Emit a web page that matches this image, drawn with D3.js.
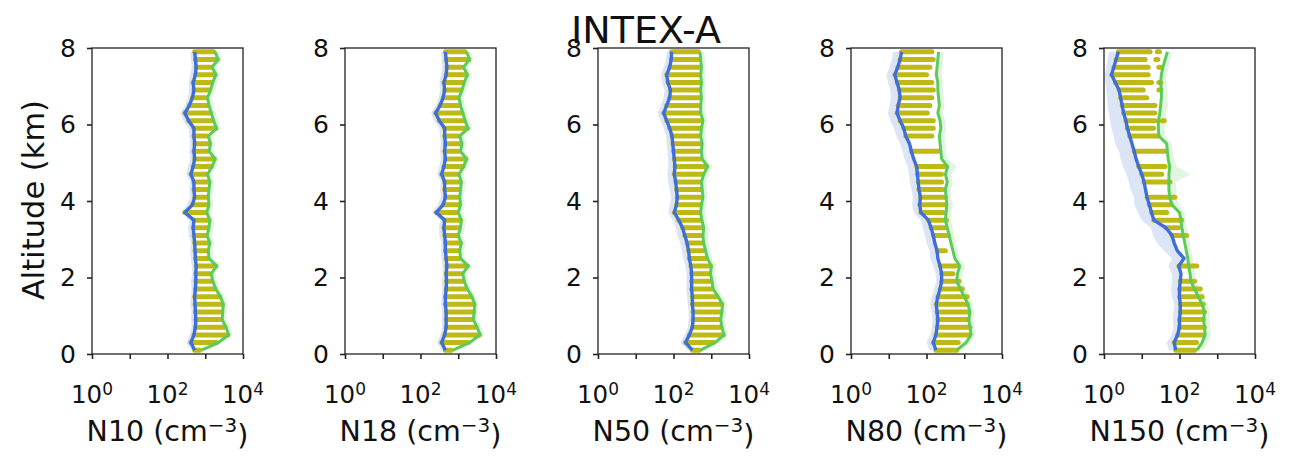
<!DOCTYPE html>
<html><head><meta charset="utf-8">
<script src="https://cdn.jsdelivr.net/npm/d3@7"></script>
<style>
body{margin:0;background:#fff}
svg{display:block}
text{font-family:"DejaVu Sans",sans-serif;fill:#111}
</style>
</head><body>
<svg id="chart" width="1291" height="456"></svg>
<script>
// ---------------- DATA (concentrations stored as log10(cm^-3)) ----------------
const altitudesKm = [0.1,0.3,0.5,0.7,0.9,1.1,1.3,1.5,1.7,1.9,2.1,2.3,2.5,2.7,2.9,3.1,3.3,3.5,3.7,3.9,
  4.1,4.3,4.5,4.7,4.9,5.1,5.3,5.5,5.7,5.9,6.1,6.3,6.5,6.7,6.9,7.1,7.3,7.5,7.7,7.9];
const panelNames = ["N10","N18","N50","N80","N150"];
const xTickValues = [1,10,100,1000,10000];
const xTickLabelExponents = [0,2,4];
const yTickValues = [0,2,4,6,8];
const chartTitle = "INTEX-A";

// N10
const n10Blue = [2.72,2.62,2.70,2.74,2.75,2.74,2.73,2.72,2.74,2.75,2.75,2.76,2.74,2.73,2.72,2.70,2.68,2.70,2.46,2.66,
  2.72,2.70,2.70,2.62,2.68,2.72,2.70,2.72,2.70,2.70,2.56,2.46,2.58,2.66,2.70,2.68,2.74,2.76,2.74,2.72];
const n10Green = [2.90,3.35,3.62,3.55,3.45,3.46,3.48,3.40,3.28,3.20,3.16,3.30,3.10,3.08,3.12,3.05,3.10,3.12,3.04,3.10,
  3.08,3.10,3.12,3.06,3.18,3.26,3.10,3.14,3.08,3.30,3.22,3.16,3.10,3.06,3.14,3.20,3.28,3.18,3.34,3.26];
const n10BarEnd = [2.85,3.30,3.60,3.52,3.42,3.44,3.45,3.38,3.25,3.18,3.12,3.28,3.06,3.04,3.10,3.02,3.06,3.10,3.00,3.06,
  3.04,3.06,3.10,3.02,3.16,3.24,3.06,3.10,3.04,3.28,3.20,3.14,3.06,3.02,3.10,3.16,3.26,3.14,3.32,3.22];
const n10BlueLow = [2.62,2.50,2.58,2.64,2.62,2.64,2.60,2.62,2.64,2.62,2.66,2.64,2.62,2.60,2.62,2.56,2.55,2.58,2.36,2.52,
  2.60,2.58,2.60,2.50,2.54,2.60,2.58,2.60,2.58,2.56,2.42,2.34,2.46,2.54,2.58,2.56,2.60,2.64,2.62,2.60];
const n10GreenHigh = [3.00,3.45,3.72,3.66,3.56,3.55,3.58,3.50,3.38,3.32,3.26,3.40,3.22,3.20,3.24,3.18,3.22,3.24,3.16,3.22,
  3.18,3.22,3.24,3.16,3.30,3.36,3.22,3.26,3.20,3.42,3.34,3.28,3.22,3.18,3.26,3.32,3.40,3.30,3.44,3.38];

// N18
const n18Blue = [2.66,2.56,2.64,2.68,2.68,2.68,2.66,2.66,2.68,2.69,2.68,2.70,2.68,2.66,2.66,2.64,2.62,2.64,2.42,2.60,
  2.66,2.64,2.64,2.56,2.62,2.66,2.64,2.66,2.64,2.64,2.50,2.40,2.52,2.60,2.64,2.62,2.68,2.70,2.68,2.66];
const n18Green = [2.86,3.30,3.58,3.50,3.40,3.42,3.44,3.36,3.24,3.16,3.12,3.26,3.06,3.04,3.08,3.00,3.06,3.08,3.00,3.06,
  3.04,3.06,3.08,3.02,3.14,3.22,3.06,3.10,3.04,3.26,3.18,3.12,3.06,3.02,3.10,3.16,3.24,3.14,3.30,3.22];
const n18BarEnd = [2.82,3.26,3.56,3.47,3.37,3.40,3.41,3.33,3.21,3.13,3.08,3.24,3.02,3.00,3.06,2.97,3.02,3.06,2.96,3.02,
  3.00,3.02,3.06,2.98,3.12,3.20,3.02,3.06,3.00,3.24,3.16,3.10,3.02,2.98,3.06,3.12,3.22,3.10,3.28,3.18];
const n18BlueLow = [2.56,2.44,2.52,2.58,2.56,2.58,2.54,2.56,2.58,2.56,2.60,2.58,2.56,2.54,2.56,2.50,2.49,2.52,2.30,2.46,
  2.54,2.52,2.54,2.44,2.50,2.54,2.52,2.54,2.52,2.50,2.36,2.28,2.40,2.48,2.52,2.50,2.54,2.58,2.56,2.54];
const n18GreenHigh = [2.96,3.40,3.68,3.61,3.51,3.51,3.54,3.46,3.34,3.28,3.22,3.36,3.18,3.16,3.20,3.13,3.18,3.20,3.12,3.18,
  3.14,3.18,3.20,3.12,3.26,3.32,3.18,3.22,3.16,3.38,3.30,3.24,3.18,3.14,3.22,3.28,3.36,3.26,3.40,3.34];

// N50
const n50Blue = [2.50,2.32,2.42,2.50,2.52,2.52,2.50,2.50,2.48,2.48,2.48,2.46,2.42,2.40,2.36,2.30,2.24,2.14,2.02,2.08,
  2.10,2.08,2.06,2.02,2.04,2.02,2.00,1.98,1.96,1.90,1.82,1.74,1.82,1.90,1.92,1.85,1.82,1.90,1.94,1.95];
const n50Green = [2.72,3.10,3.34,3.28,3.25,3.28,3.30,3.18,3.05,3.02,2.98,3.00,2.90,2.85,2.80,2.78,2.80,2.75,2.72,2.74,
  2.78,2.76,2.74,2.80,2.90,2.76,2.74,2.76,2.72,2.74,2.78,2.72,2.72,2.74,2.72,2.74,2.72,2.74,2.72,2.70];
const n50BarEnd = [2.68,3.06,3.32,3.26,3.22,3.26,3.28,3.15,3.02,2.98,2.95,2.98,2.86,2.80,2.76,2.74,2.76,2.72,2.68,2.70,
  2.74,2.72,2.70,2.76,2.88,2.72,2.70,2.72,2.68,2.70,2.74,2.68,2.68,2.70,2.68,2.70,2.68,2.70,2.68,2.66];
const n50BlueLow = [2.38,2.18,2.30,2.38,2.40,2.40,2.38,2.36,2.34,2.35,2.34,2.32,2.26,2.22,2.18,2.10,2.06,1.98,1.86,1.90,
  1.94,1.90,1.86,1.84,1.86,1.86,1.84,1.82,1.80,1.74,1.66,1.58,1.66,1.74,1.76,1.70,1.66,1.74,1.80,1.82];
const n50GreenHigh = [2.84,3.22,3.46,3.40,3.36,3.40,3.42,3.30,3.18,3.14,3.10,3.14,3.02,2.98,2.92,2.92,2.94,2.88,2.84,2.86,
  2.90,2.88,2.86,2.94,3.02,2.88,2.86,2.88,2.84,2.86,2.90,2.84,2.84,2.86,2.84,2.86,2.84,2.86,2.84,2.82];

// N80
const n80Blue = [2.25,2.18,2.25,2.28,2.30,2.28,2.26,2.30,2.36,2.40,2.40,2.36,2.30,2.28,2.22,2.18,2.12,2.05,1.85,1.82,
  1.84,1.80,1.78,1.76,1.74,1.66,1.60,1.55,1.45,1.40,1.30,1.22,1.25,1.30,1.28,1.22,1.16,1.24,1.30,1.34];
const n80Green = [2.80,3.05,3.18,3.15,3.12,3.15,3.10,3.00,2.90,2.80,2.82,2.88,2.75,2.70,2.65,2.60,2.55,2.50,2.52,2.54,
  2.52,2.50,2.55,2.50,2.56,2.40,2.38,2.36,2.34,2.38,2.36,2.30,2.34,2.32,2.30,2.30,2.26,2.28,2.30,2.32];
const n80BarEnd = [2.80,2.84,3.12,3.15,3.10,3.12,3.08,3.08,2.95,2.86,2.70,2.78,null,2.50,null,2.58,2.49,2.53,2.44,2.48,
  2.50,2.45,2.40,2.40,2.53,null,2.31,null,2.14,2.18,2.18,2.02,2.09,2.14,2.18,2.14,2.00,2.09,2.18,2.14];
const n80BlueLow = [2.08,2.00,2.10,2.14,2.16,2.14,2.10,2.14,2.20,2.26,2.24,2.18,2.10,2.08,2.00,1.96,1.90,1.84,1.66,1.62,
  1.64,1.60,1.56,1.54,1.50,1.42,1.36,1.30,1.20,1.14,1.04,0.98,1.02,1.06,1.04,0.98,0.94,1.02,1.08,1.12];
const n80GreenHigh = [2.92,3.18,3.30,3.28,3.24,3.27,3.22,3.12,3.04,2.94,2.96,3.02,2.88,2.84,2.78,2.74,2.70,2.64,2.66,2.70,
  2.66,2.64,2.70,2.66,2.80,2.56,2.52,2.50,2.48,2.52,2.50,2.44,2.48,2.46,2.44,2.44,2.40,2.42,2.44,2.46];

// N150
const n150Blue = [1.90,1.86,1.95,2.00,2.00,2.02,2.02,2.00,2.00,2.02,2.04,1.98,2.12,1.94,1.86,1.80,1.64,1.32,1.26,1.20,
  1.14,1.10,1.06,1.00,0.92,0.85,0.80,0.74,0.68,0.62,0.58,0.52,0.48,0.44,0.40,0.30,0.20,0.26,0.32,0.38];
const n150Green = [2.46,2.60,2.68,2.66,2.64,2.66,2.60,2.50,2.40,2.30,2.28,2.24,2.22,2.18,2.14,2.10,2.06,2.04,2.00,1.80,
  1.74,1.72,1.72,1.72,1.74,1.70,1.68,1.66,1.45,1.44,1.44,1.48,1.50,1.52,1.52,1.50,1.52,1.56,1.62,1.68];
const n150BarEnd = [2.40,2.45,2.60,2.66,2.63,2.66,2.63,2.60,2.55,2.40,null,2.46,null,null,null,2.19,1.97,2.06,1.66,1.79,
  1.88,null,1.75,1.53,1.62,null,1.62,null,1.44,1.31,1.35,1.35,1.35,1.13,1.04,1.26,1.17,1.17,1.09,1.22];
const n150BlueLow = [1.72,1.66,1.80,1.84,1.82,1.84,1.86,1.80,1.78,1.80,1.80,1.70,1.80,1.60,1.40,1.30,1.24,1.00,0.90,0.80,
  0.80,0.70,0.66,0.60,0.50,0.44,0.40,0.30,0.26,0.20,0.16,0.12,0.10,0.08,0.06,0.04,0.02,0.06,0.10,0.14];
const n150GreenHigh = [2.60,2.76,2.84,2.82,2.80,2.80,2.74,2.66,2.56,2.44,2.42,2.38,2.36,2.30,2.28,2.24,2.20,2.16,2.14,2.00,
  1.90,1.92,1.90,2.30,1.92,1.86,1.82,1.80,1.62,1.60,1.66,1.64,1.70,1.66,1.68,1.64,1.66,1.72,1.76,1.80];
// isolated short marks beyond the bar ends (N150 upper levels)
const n150BarTail = [null,null,null,null,null,null,null,null,null,null,null,null,null,null,null,null,null,null,null,null,
  null,null,null,null,null,null,null,null,null,null,1.57,null,null,null,1.48,1.48,null,1.48,1.40,1.44];

const panels = [
  {name:panelNames[0], blue:n10Blue, green:n10Green, barEnd:n10BarEnd, blueLow:n10BlueLow, greenHigh:n10GreenHigh, tail:null},
  {name:panelNames[1], blue:n18Blue, green:n18Green, barEnd:n18BarEnd, blueLow:n18BlueLow, greenHigh:n18GreenHigh, tail:null},
  {name:panelNames[2], blue:n50Blue, green:n50Green, barEnd:n50BarEnd, blueLow:n50BlueLow, greenHigh:n50GreenHigh, tail:null},
  {name:panelNames[3], blue:n80Blue, green:n80Green, barEnd:n80BarEnd, blueLow:n80BlueLow, greenHigh:n80GreenHigh, tail:null},
  {name:panelNames[4], blue:n150Blue, green:n150Green, barEnd:n150BarEnd, blueLow:n150BlueLow, greenHigh:n150GreenHigh, tail:n150BarTail}
];

// ---------------- LAYOUT ----------------
const firstLeft = 92, panelStep = 253, panelW = 151, plotTop = 48, plotBottom = 354;
const COL_BLUE = "#3f6fd6", COL_GREEN = "#5ccb58", COL_BAR = "#bfb915";
const svg = d3.select("#chart");
const y = d3.scaleLinear().domain([0, 8]).range([plotBottom, plotTop]);

panels.forEach((p, i) => {
  const left = firstLeft + i * panelStep;
  const x = d3.scaleLog().domain([1, 1e4]).range([left, left + panelW]);
  const X = v => x(Math.pow(10, v));
  const g = svg.append("g");
  const clipId = "clip" + i;
  g.append("clipPath").attr("id", clipId).append("rect")
    .attr("x", left).attr("y", plotTop).attr("width", panelW).attr("height", plotBottom - plotTop);
  const plot = g.append("g").attr("clip-path", `url(#${clipId})`);

  const rows = altitudesKm.map((a, j) => ({a, b: p.blue[j], gr: p.green[j], e: p.barEnd[j], lo: p.blueLow[j], hi: p.greenHigh[j],
    t: p.tail ? p.tail[j] : null}));

  plot.append("path").datum(rows)
    .attr("d", d3.area().y(d => y(d.a)).x0(d => X(d.lo)).x1(d => X(d.b)))
    .attr("fill", "rgba(95,135,215,0.22)");
  plot.append("path").datum(rows)
    .attr("d", d3.area().y(d => y(d.a)).x0(d => X(d.gr)).x1(d => X(d.hi)))
    .attr("fill", "rgba(110,205,110,0.20)");

  plot.selectAll("line.bar").data(rows.filter(d => d.e !== null)).join("line")
    .attr("class", "bar")
    .attr("x1", d => X(d.b)).attr("x2", d => X(d.e))
    .attr("y1", d => y(d.a)).attr("y2", d => y(d.a))
    .attr("stroke", COL_BAR).attr("stroke-width", 5).attr("stroke-linecap", "round");

  plot.selectAll("line.tail").data(rows.filter(d => d.t !== null)).join("line")
    .attr("class", "tail")
    .attr("x1", d => X(d.t) - 1).attr("x2", d => X(d.t) + 1)
    .attr("y1", d => y(d.a)).attr("y2", d => y(d.a))
    .attr("stroke", COL_BAR).attr("stroke-width", 5).attr("stroke-linecap", "round");

  plot.append("path").datum(rows)
    .attr("d", d3.line().y(d => y(d.a)).x(d => X(d.b)))
    .attr("fill", "none").attr("stroke", COL_BLUE).attr("stroke-width", 3.4).attr("stroke-linejoin", "round");
  plot.append("path").datum(rows)
    .attr("d", d3.line().y(d => y(d.a)).x(d => X(d.gr)))
    .attr("fill", "none").attr("stroke", COL_GREEN).attr("stroke-width", 3).attr("stroke-linejoin", "round");

  // frame
  g.append("rect").attr("x", left).attr("y", plotTop).attr("width", panelW).attr("height", plotBottom - plotTop)
    .attr("fill", "none").attr("stroke", "#222").attr("stroke-width", 1.3);

  // x axis
  const xa = g.append("g").attr("transform", `translate(0,${plotBottom})`)
    .call(d3.axisBottom(x).tickValues(xTickValues).tickSize(5).tickFormat(() => ""));
  xa.select(".domain").remove();
  xa.selectAll(".tick line").attr("stroke", "#222").attr("stroke-width", 1.6);
  xTickLabelExponents.forEach(ex => {
    const t = g.append("text").attr("x", x(Math.pow(10, ex))).attr("y", 403)
      .attr("text-anchor", "middle").style("font-size", "24.5px");
    t.append("tspan").text("10");
    t.append("tspan").attr("dy", "-0.45em").style("font-size", "17px").text(ex);
  });

  // y axis
  const ya = g.append("g").attr("transform", `translate(${left},0)`)
    .call(d3.axisLeft(y).tickValues(yTickValues).tickSize(5).tickPadding(11).tickFormat(d3.format("d")));
  ya.select(".domain").remove();
  ya.selectAll(".tick line").attr("stroke", "#222").attr("stroke-width", 1.6);
  ya.selectAll(".tick text").style("font-size", "25px").attr("fill", "#111").attr("font-family", "DejaVu Sans");

  // x label
  const xl = g.append("text").attr("x", left + panelW / 2).attr("y", 441)
    .attr("text-anchor", "middle").style("font-size", "28.5px");
  xl.append("tspan").text(p.name + " (cm");
  xl.append("tspan").attr("dy", "-0.45em").style("font-size", "20px").text("\u22123");
  xl.append("tspan").attr("dy", "0.45em").text(")");
});

// y label
svg.append("text").attr("transform", "translate(44,200) rotate(-90)")
  .attr("text-anchor", "middle").style("font-size", "30.5px").text("Altitude (km)");

// title
svg.append("text").attr("x", 646).attr("y", 43).attr("text-anchor", "middle")
  .style("font-size", "38px").text(chartTitle);
</script>
</body></html>
